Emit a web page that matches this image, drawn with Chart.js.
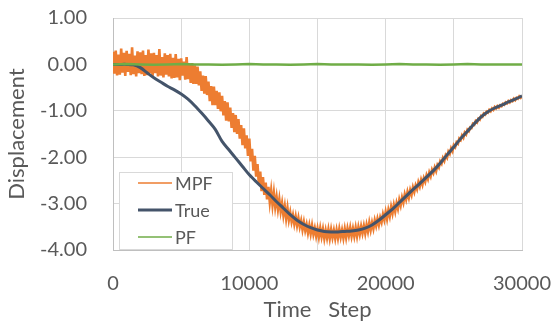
<!DOCTYPE html>
<html>
<head>
<meta charset="utf-8">
<script src="https://cdn.jsdelivr.net/npm/chart.js@4"></script>
<style>
  html, body { margin: 0; padding: 0; background: #fff; }
  #wrap { width: 555px; height: 327px; }
</style>
</head>
<body>
<div id="wrap"><canvas id="dispChart" width="555" height="327"></canvas></div>
<script>
// time steps of the true curve (every 500)
const trueSteps = [];
for (let s = 0; s <= 30000; s += 500) trueSteps.push(s);
const trueVals = [
  0, 0, 0, -0.01, -0.07, -0.18, -0.29, -0.38, -0.47, -0.55,
  -0.64, -0.75, -0.89, -1.05, -1.22, -1.40, -1.66, -1.84, -2.02, -2.20,
  -2.38, -2.53, -2.67, -2.81, -2.96, -3.10, -3.24, -3.36, -3.45, -3.52,
  -3.57, -3.60, -3.61, -3.61, -3.60, -3.59, -3.57, -3.53, -3.46, -3.36,
  -3.24, -3.12, -2.98, -2.84, -2.70, -2.57, -2.43, -2.29, -2.13, -1.95,
  -1.78, -1.60, -1.44, -1.28, -1.13, -1.02, -0.94, -0.88, -0.81, -0.75,
  -0.68
];

// MPF estimate, every 100 steps (noisy)
const mpfSteps = [];
for (let s = 0; s <= 30000; s += 100) mpfSteps.push(s);
const mpfVals = [
  0.27, -0.20, 0.30, -0.24, 0.21, -0.22, 0.34, -0.18, 0.25, -0.25,
  0.29, -0.16, 0.23, -0.23, 0.37, -0.21, 0.19, -0.26, 0.28, -0.19,
  0.26, -0.21, 0.30, -0.25, 0.20, -0.23, 0.32, -0.19, 0.24, -0.26,
  0.25, -0.19, 0.20, -0.26, 0.33, -0.24, 0.16, -0.28, 0.24, -0.22,
  0.20, -0.26, 0.23, -0.30, 0.14, -0.29, 0.22, -0.28, 0.12, -0.34,
  0.13, -0.24, 0.06, -0.33, 0.16, -0.32, 0.02, -0.40, 0.03, -0.42,
  -0.02, -0.42, -0.05, -0.45, -0.15, -0.57, -0.24, -0.63, -0.25, -0.66,
  -0.37, -0.79, -0.47, -0.88, -0.48, -0.88, -0.57, -0.96, -0.60, -1.01,
  -0.68, -1.10, -0.79, -1.21, -0.82, -1.23, -0.93, -1.37, -1.05, -1.46,
  -1.09, -1.50, -1.18, -1.60, -1.31, -1.74, -1.38, -1.81, -1.53, -1.97,
  -1.60, -2.09, -1.82, -2.29, -1.97, -2.42, -2.15, -2.60, -2.31, -2.73,
  -2.43, -2.81, -2.55, -2.91, -2.64, -2.97, -2.72, -3.03, -2.77, -3.07,
  -2.86, -3.12, -2.91, -3.17, -2.99, -3.25, -3.06, -3.32, -3.10, -3.35,
  -3.19, -3.39, -3.25, -3.44, -3.28, -3.47, -3.31, -3.50, -3.37, -3.56,
  -3.40, -3.58, -3.45, -3.63, -3.47, -3.65, -3.47, -3.66, -3.53, -3.70,
  -3.54, -3.72, -3.53, -3.71, -3.55, -3.75, -3.58, -3.74, -3.56, -3.75,
  -3.56, -3.73, -3.58, -3.75, -3.57, -3.74, -3.55, -3.72, -3.57, -3.74,
  -3.55, -3.73, -3.54, -3.69, -3.52, -3.70, -3.54, -3.70, -3.52, -3.70,
  -3.51, -3.66, -3.49, -3.64, -3.48, -3.64, -3.46, -3.60, -3.41, -3.57,
  -3.41, -3.54, -3.36, -3.48, -3.33, -3.46, -3.30, -3.40, -3.23, -3.35,
  -3.18, -3.33, -3.14, -3.27, -3.07, -3.21, -3.03, -3.17, -2.99, -3.11,
  -2.92, -3.04, -2.87, -2.98, -2.80, -2.91, -2.75, -2.87, -2.71, -2.81,
  -2.65, -2.75, -2.61, -2.69, -2.54, -2.63, -2.49, -2.59, -2.45, -2.53,
  -2.39, -2.47, -2.33, -2.41, -2.27, -2.34, -2.22, -2.30, -2.17, -2.22,
  -2.09, -2.14, -2.02, -2.08, -1.96, -2.01, -1.88, -1.93, -1.81, -1.87,
  -1.74, -1.78, -1.68, -1.71, -1.60, -1.63, -1.53, -1.58, -1.47, -1.51,
  -1.41, -1.44, -1.36, -1.37, -1.28, -1.30, -1.22, -1.25, -1.17, -1.19,
  -1.11, -1.13, -1.06, -1.08, -1.02, -1.04, -0.98, -1.01, -0.95, -0.98,
  -0.92, -0.95, -0.90, -0.93, -0.88, -0.90, -0.85, -0.87, -0.82, -0.84,
  -0.79, -0.82, -0.77, -0.79, -0.74, -0.77, -0.72, -0.74, -0.69, -0.72,
  -0.68
];

// PF estimate, every 1000 steps (flat at zero)
const pfSteps = [];
for (let s = 0; s <= 30000; s += 1000) pfSteps.push(s);
const pfVals = [
  0, 0.01, 0, -0.01, 0, 0.01, 0, 0, -0.01, 0,
  0.01, 0, 0, -0.01, 0, 0.01, 0, 0, 0, -0.01,
  0, 0.01, 0, 0, -0.01, 0, 0.01, 0, 0, 0,
  0
];

const seriesNames = ['MPF', 'True', 'PF'];
const seriesColors = ['#ED7D31', '#44546A', '#70AD47'];
const seriesWidths = [2.6, 3, 2.5];
const legendWidths = [1.5, 3, 1.5];

const yTicks = [1, 0, -1, -2, -3, -4];

function toPoints(xs, ys) {
  return xs.map((x, i) => ({ x: x, y: ys[i] }));
}

const textGray = '#595959';
const gridGray = '#D9D9D9';

// legend box drawn inside the plot, bottom left
const boxLegend = {
  id: 'boxLegend',
  afterDraw(chart) {
    const c = chart.ctx;
    const x = 119, y = 172, w = 113, h = 77;
    c.save();
    c.fillStyle = '#fff';
    c.fillRect(x, y, w, h);
    c.strokeStyle = gridGray;
    c.lineWidth = 1;
    c.strokeRect(x + 0.5, y + 0.5, w, h);
    c.font = '18px Lato';
    c.textBaseline = 'middle';
    c.fillStyle = textGray;
    const rows = [183, 210, 237];
    seriesNames.forEach((name, i) => {
      c.strokeStyle = seriesColors[i];
      c.lineWidth = legendWidths[i];
      c.beginPath();
      c.moveTo(138, rows[i]);
      c.lineTo(172, rows[i]);
      c.stroke();
      c.fillText(name, 175, rows[i] + 1);
    });
    c.restore();
  }
};

const ctx = document.getElementById('dispChart').getContext('2d');
new Chart(ctx, {
  type: 'line',
  data: {
    datasets: [
      {
        label: seriesNames[0],
        data: toPoints(mpfSteps, mpfVals),
        borderColor: seriesColors[0],
        borderWidth: seriesWidths[0],
        pointRadius: 0,
        tension: 0,
        order: 3
      },
      {
        label: seriesNames[1],
        data: toPoints(trueSteps, trueVals),
        borderColor: seriesColors[1],
        borderWidth: seriesWidths[1],
        pointRadius: 0,
        tension: 0.3,
        order: 2
      },
      {
        label: seriesNames[2],
        data: toPoints(pfSteps, pfVals),
        borderColor: seriesColors[2],
        borderWidth: seriesWidths[2],
        pointRadius: 0,
        tension: 0,
        order: 1
      }
    ]
  },
  options: {
    responsive: false,
    animation: false,
    devicePixelRatio: 1,
    layout: { padding: { top: 18, right: 33, left: 0, bottom: 0 } },
    plugins: {
      legend: { display: false },
      tooltip: { enabled: false }
    },
    scales: {
      x: {
        type: 'linear',
        min: 0,
        max: 30000,
        afterFit: s => {
          s.height = 77;
          s.paddingLeft = 0;
          s.paddingRight = 0;
        },
        grid: { color: gridGray, drawTicks: false },
        border: { color: '#BFBFBF' },
        ticks: {
          stepSize: 5000,
          maxRotation: 0,
          autoSkip: false,
          padding: 22,
          color: textGray,
          font: { family: 'Lato', size: 20 },
          callback: v => (v % 10000 === 0 ? String(v) : '')
        },
        title: {
          display: true,
          text: 'Time   Step',
          color: textGray,
          font: { family: 'Lato', size: 22 },
          padding: { top: 0, bottom: 4 }
        }
      },
      y: {
        type: 'linear',
        min: yTicks[yTicks.length - 1],
        max: yTicks[0],
        afterFit: s => {
          s.width = 113;
          s.paddingTop = 0;
          s.paddingBottom = 0;
        },
        grid: { color: gridGray, drawTicks: false },
        border: { color: '#BFBFBF' },
        ticks: {
          stepSize: 1,
          padding: 26,
          color: textGray,
          font: { family: 'Lato', size: 20 },
          callback: v => v.toFixed(2)
        },
        title: {
          display: true,
          text: 'Displacement',
          color: textGray,
          font: { family: 'Lato', size: 22 },
          padding: { top: 4, bottom: 0 }
        }
      }
    }
  },
  plugins: [boxLegend]
});
</script>
</body>
</html>
